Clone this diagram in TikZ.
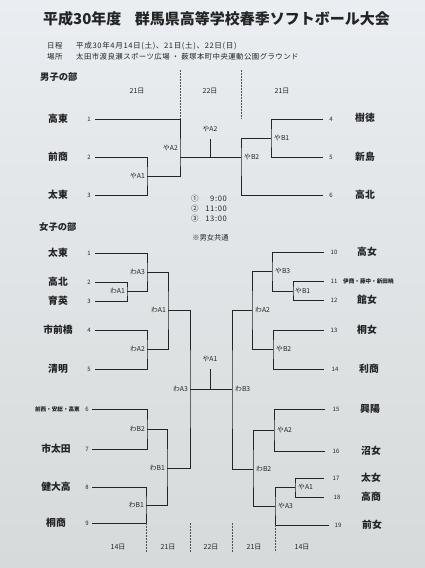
\documentclass[tikz,border=0pt]{standalone}
\usepackage{fontspec}
\setmainfont{Noto Sans CJK JP}
\newfontfamily\spacedfont{Noto Sans CJK JP}[LetterSpace=8]
\newfontfamily\infofont{Noto Sans CJK JP}[LetterSpace=6]
\definecolor{ink}{RGB}{35,36,38}
\definecolor{papertop}{RGB}{234,237,241}
\definecolor{paperbot}{RGB}{214,218,218}
\tikzset{
  br/.style={line width=0.75pt, draw=ink, line join=miter},
  dsh/.style={line width=0.5pt, draw=ink!80, dash pattern=on 1.6pt off 1.4pt},
  team/.style={font=\bfseries\fontsize{9.8}{10}\selectfont, text=ink, inner sep=0pt},
  smallteam/.style={font=\bfseries\fontsize{5.6}{6}\selectfont, text=ink, inner sep=0pt},
  num/.style={font=\fontsize{6}{6}\selectfont, text=ink, inner sep=0pt},
  lab/.style={font=\fontsize{6.8}{7}\selectfont, text=ink, inner sep=0pt},
  day/.style={font=\fontsize{7}{7}\selectfont, text=ink, inner sep=0pt},
  info/.style={font=\infofont\fontsize{7.4}{8}\selectfont, text=ink, inner sep=0pt, anchor=west},
  head/.style={font=\bfseries\fontsize{9.3}{10}\selectfont, text=ink, inner sep=0pt},
  timefont/.style={font=\fontsize{7.5}{8}\selectfont, text=ink, inner sep=0pt},
}
\begin{document}
\begin{tikzpicture}[x=1pt,y=-1pt]
\shade[top color=papertop, bottom color=paperbot] (0,0) rectangle (425,568);
\useasboundingbox (0,0) rectangle (425,568);

% ---------- header ----------
\node[font=\bfseries\fontsize{15}{15}\selectfont, text=ink, inner sep=0pt] (title) at (216.5,19) {平成30年度\hspace{0.9em}群馬県高等学校春季ソフトボール大会};
\node[info] (k1) at (47,46) {日程};
\node[info, font=\spacedfont\fontsize{7.6}{8}\selectfont] (v1) at (76,46) {平成30年4月14日(土)、21日(土)、22日(日)};
\node[info] (k2) at (47,57) {場所};
\node[info] (v2) at (76,57) {太田市渡良瀬スポーツ広場\ ・\ 薮塚本町中央運動公園グラウンド};

% ---------- men ----------
\node[head, anchor=west] (men) at (40,77) {男子の部};
\node[day] (md1) at (137,91) {21日};
\node[day] (md2) at (210,91) {22日};
\node[day] (md3) at (282,91) {21日};

\node[team] (mt1) at (58,119) {高東};
\node[team] (mt2) at (58,157) {前商};
\node[team] (mt3) at (58,195) {太東};
\node[num] (mn1) at (89,119) {1};
\node[num] (mn2) at (89,157) {2};
\node[num] (mn3) at (89,195) {3};
\node[team] (mt4) at (365,118) {樹徳};
\node[team] (mt5) at (365,157) {新島};
\node[team] (mt6) at (365,195) {高北};
\node[num] (mn4) at (331,119) {4};
\node[num] (mn5) at (331,157) {5};
\node[num] (mn6) at (331,195) {6};

\coordinate (m1) at (95,119);
\coordinate (m2) at (95,157);
\coordinate (m3) at (95,195);
\coordinate (m4) at (323,119);
\coordinate (m5) at (323,157);
\coordinate (m6) at (323,195);
\coordinate (mA1) at (147,176);
\coordinate (mA2) at (180,157);
\coordinate (mB1) at (271,138);
\coordinate (mB2) at (241,157);
\coordinate (mF) at (210,157);
\coordinate (mFt) at (210,139);
\coordinate (mdl1) at (180,70);
\coordinate (mdl2) at (180,119);
\coordinate (mdr1) at (241,70);
\coordinate (mdr2) at (241,119);

\draw[br] (m2) -| (mA1) |- (m3);
\draw[br] (m1) -| (mA2) |- (mA1);
\draw[br] (m4) -| (mB1) |- (m5);
\draw[br] (m6) -| (mB2) |- (mB1);
\draw[br] (mA2) -- (mB2);
\draw[br] (mF) -- (mFt);
\draw[dsh] (mdl1) -- (mdl2);
\draw[dsh] (mdr1) -- (mdr2);

\node[lab, anchor=east] (lmA1) at (145,176) {やA1};
\node[lab, anchor=east] (lmA2) at (178,148) {やA2};
\node[lab] (lmF) at (210,129) {やA2};
\node[lab, anchor=west] (lmB2) at (244,157) {やB2};
\node[lab, anchor=west] (lmB1) at (274,138) {やB1};

% times
\node[timefont, anchor=west] (c1) at (191,199) {①};
\node[timefont, anchor=west] (c2) at (191,209) {②};
\node[timefont, anchor=west] (c3) at (191,219) {③};
\node[timefont, font=\spacedfont\fontsize{7.6}{8}\selectfont, anchor=east] (h1) at (227,199) {9:00};
\node[timefont, font=\spacedfont\fontsize{7.6}{8}\selectfont, anchor=east] (h2) at (227,209) {11:00};
\node[timefont, font=\spacedfont\fontsize{7.6}{8}\selectfont, anchor=east] (h3) at (227,219) {13:00};
\node[font=\fontsize{7.3}{8}\selectfont, text=ink, inner sep=0pt] (note) at (210.5,238) {※男女共通};

% ---------- women ----------
\node[head, anchor=west] (women) at (39,227) {女子の部};

\node[team] (wt1) at (58,253) {太東};
\node[team] (wt2) at (58,282) {高北};
\node[team] (wt3) at (58,301) {育英};
\node[team] (wt4) at (58,330) {市前橋};
\node[team] (wt5) at (58,369) {清明};
\node[smallteam, anchor=east] (wt6) at (80,409) {前西・安総・高東};
\node[team] (wt7) at (56,449) {市太田};
\node[team] (wt8) at (56,487) {健大高};
\node[team] (wt9) at (56,523) {桐商};
\node[num] (wn1) at (89,253) {1};
\node[num] (wn2) at (89,282) {2};
\node[num] (wn3) at (89,301) {3};
\node[num] (wn4) at (89,330) {4};
\node[num] (wn5) at (89,369) {5};
\node[num] (wn6) at (87,409) {6};
\node[num] (wn7) at (87,449) {7};
\node[num] (wn8) at (87,487) {8};
\node[num] (wn9) at (87,523) {9};

\node[num] (wn10) at (334,252) {10};
\node[num] (wn11) at (334,281) {11};
\node[num] (wn12) at (334,300) {12};
\node[num] (wn13) at (334,330) {13};
\node[num] (wn14) at (335,369) {14};
\node[num] (wn15) at (336,409) {15};
\node[num] (wn16) at (336,451) {16};
\node[num] (wn17) at (336,478) {17};
\node[num] (wn18) at (337,497) {18};
\node[num] (wn19) at (338,525) {19};
\node[team] (wt10) at (367,252) {高女};
\node[smallteam, anchor=west] (wt11) at (343,281) {伊商・藤中・新田暁};
\node[team] (wt12) at (367,300) {館女};
\node[team] (wt13) at (367,330) {桐女};
\node[team] (wt14) at (369,369) {利商};
\node[team] (wt15) at (370,409) {興陽};
\node[team] (wt16) at (371,451) {沼女};
\node[team] (wt17) at (371,478) {太女};
\node[team] (wt18) at (371,497) {高商};
\node[team] (wt19) at (372,525) {前女};

% left team line starts
\coordinate (w1) at (95,253);
\coordinate (w2) at (95,282);
\coordinate (w3) at (95,301);
\coordinate (w4) at (95,330);
\coordinate (w5) at (95,369);
\coordinate (w6) at (92,409);
\coordinate (w7) at (92,449);
\coordinate (w8) at (92,487);
\coordinate (w9) at (92,523);
% right team line ends
\coordinate (v10) at (324,252);
\coordinate (v11) at (324,281);
\coordinate (v12) at (324,300);
\coordinate (v13) at (324,330);
\coordinate (v14) at (324,369);
\coordinate (v15) at (325,409);
\coordinate (v16) at (325,451);
\coordinate (v17) at (324,478);
\coordinate (v18) at (324,497);
\coordinate (v19) at (329,525);
% junctions
\coordinate (jwA1) at (127,291);
\coordinate (jwA3) at (147,272);
\coordinate (jwA2) at (147,349);
\coordinate (jwA1b) at (168,310);
\coordinate (jL) at (190,389);
\coordinate (jwB2) at (147,429);
\coordinate (jwB1) at (146,505);
\coordinate (jwB1b) at (167,468);
\coordinate (jR) at (232,389);
\coordinate (jwA2r) at (252,310);
\coordinate (jyB3) at (272,271);
\coordinate (jyB1) at (293,291);
\coordinate (jyB2) at (273,349);
\coordinate (jwB2r) at (253,469);
\coordinate (jyA2) at (274,430);
\coordinate (jyA3) at (275,506);
\coordinate (jyA1) at (295,487);
\coordinate (jF) at (210,389);
\coordinate (jFt) at (210,369);

\draw[br] (w2) -| (jwA1) |- (w3);
\draw[br] (w1) -| (jwA3) |- (jwA1);
\draw[br] (w4) -| (jwA2) |- (w5);
\draw[br] (jwA3) -| (jwA1b) |- (jwA2);
\draw[br] (w6) -| (jwB2) |- (w7);
\draw[br] (w8) -| (jwB1) |- (w9);
\draw[br] (jwB2) -| (jwB1b) |- (jwB1);
\draw[br] (jwA1b) -| (jL) |- (jwB1b);
\draw[br] (jL) -- (jR);
\draw[br] (jF) -- (jFt);
\draw[br] (v11) -| (jyB1) |- (v12);
\draw[br] (v10) -| (jyB3) |- (jyB1);
\draw[br] (v13) -| (jyB2) |- (v14);
\draw[br] (jyB3) -| (jwA2r) |- (jyB2);
\draw[br] (v15) -| (jyA2) |- (v16);
\draw[br] (v17) -| (jyA1) |- (v18);
\draw[br] (jyA1) -| (jyA3) |- (v19);
\draw[br] (jyA2) -| (jwB2r) |- (jyA3);
\draw[br] (jwA2r) -| (jR) |- (jwB2r);

% bottom dashed separators
\coordinate (bd1a) at (146,523); \coordinate (bd1b) at (146,552);
\coordinate (bd2a) at (190,523); \coordinate (bd2b) at (190,552);
\coordinate (bd3a) at (232,523); \coordinate (bd3b) at (232,552);
\coordinate (bd4a) at (275,525); \coordinate (bd4b) at (275,552);
\draw[dsh] (bd1a) -- (bd1b);
\draw[dsh] (bd2a) -- (bd2b);
\draw[dsh] (bd3a) -- (bd3b);
\draw[dsh] (bd4a) -- (bd4b);

\node[day] (wd1) at (118,547) {14日};
\node[day] (wd2) at (168,547) {21日};
\node[day] (wd3) at (211,547) {22日};
\node[day] (wd4) at (254,547) {21日};
\node[day] (wd5) at (302,547) {14日};

% women labels
\node[lab, anchor=east] (lw1) at (145,272) {わA3};
\node[lab, anchor=east] (lw2) at (125,291) {わA1};
\node[lab, anchor=east] (lw3) at (145,349) {わA2};
\node[lab, anchor=east] (lw4) at (166,310) {わA1};
\node[lab, anchor=east] (lw5) at (188,389) {わA3};
\node[lab, anchor=east] (lw6) at (145,429) {わB2};
\node[lab, anchor=east] (lw7) at (165,468) {わB1};
\node[lab, anchor=east] (lw8) at (144,505) {わB1};
\node[lab] (lwF) at (210,359) {やA1};
\node[lab, anchor=west] (lw9) at (235,389) {わB3};
\node[lab, anchor=west] (lw10) at (255,310) {わA2};
\node[lab, anchor=west] (lw11) at (275,271) {やB3};
\node[lab, anchor=west] (lw12) at (295,291) {やB1};
\node[lab, anchor=west] (lw13) at (276,349) {やB2};
\node[lab, anchor=west] (lw14) at (277,430) {やA2};
\node[lab, anchor=west] (lw15) at (256,469) {わB2};
\node[lab, anchor=west] (lw16) at (298,487) {やA1};
\node[lab, anchor=west] (lw17) at (278,506) {やA3};
\end{tikzpicture}
\end{document}
